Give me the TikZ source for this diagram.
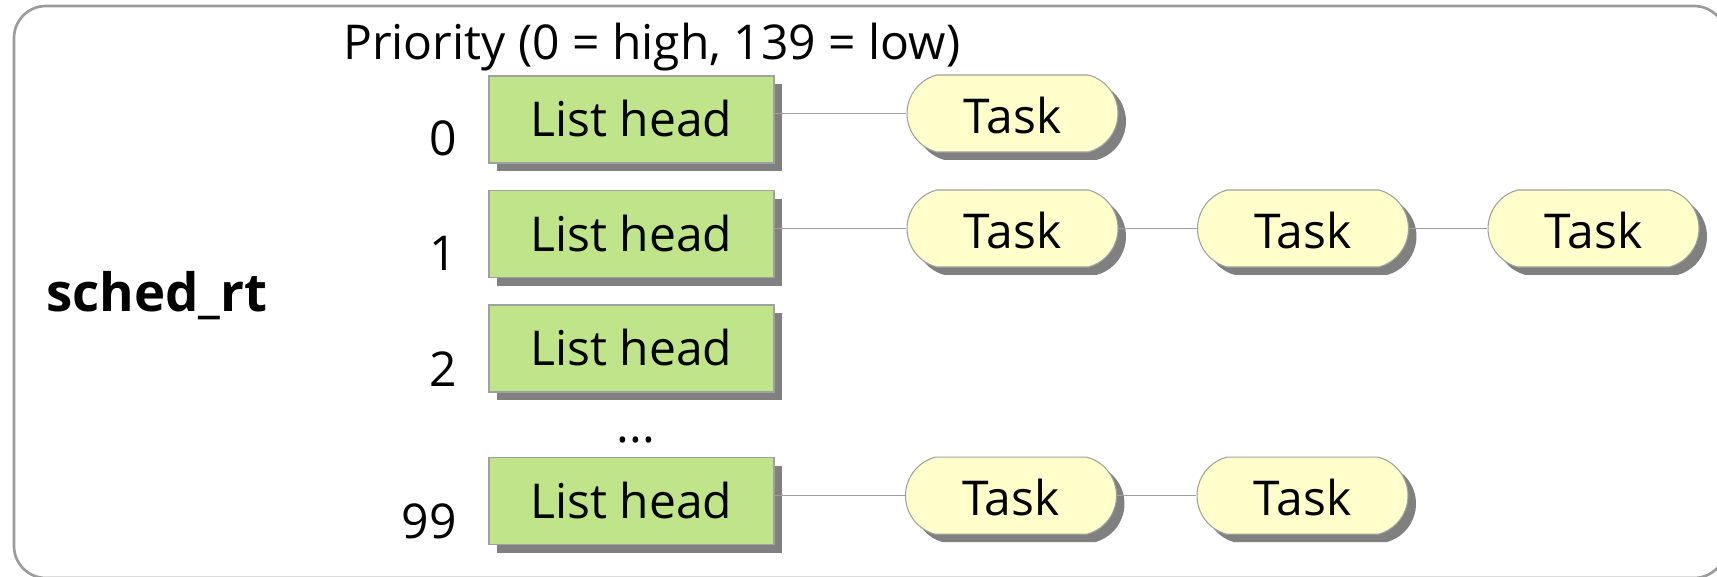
\documentclass[tikz,border=0pt]{standalone}
\usepackage{fontspec}
\setmainfont{Open Sans}
\usetikzlibrary{shapes.misc,shadows}

\definecolor{headgreen}{RGB}{192,228,138}
\definecolor{taskyellow}{RGB}{255,255,204}
\definecolor{edgegray}{RGB}{160,160,160}
\definecolor{framegray}{RGB}{155,155,155}
\definecolor{shadegray}{RGB}{128,128,128}

\tikzset{
  softshadow/.style={drop shadow={shadow xshift=6pt, shadow yshift=-6pt, fill=shadegray, opacity=1}},
  headbox/.style={rectangle, draw=edgegray, line width=0.8pt, fill=headgreen, softshadow,
    minimum width=213.75pt, minimum height=65.25pt, inner sep=0pt,
    text height=25.5pt, text depth=0pt},
  taskbox/.style={rounded rectangle, rounded rectangle arc length=150, draw=edgegray, line width=0.8pt,
    fill=taskyellow, softshadow, minimum width=158.25pt, minimum height=57.75pt, inner sep=0pt,
    text height=30pt, text depth=0pt},
  link/.style={draw=edgegray, line width=1.1pt},
  prio/.style={anchor=base east, inner sep=0pt},
}

\begin{document}
\begin{tikzpicture}[x=0.75pt, y=-0.75pt, every node/.style={font=\fontsize{36}{43}\selectfont}]
\useasboundingbox (0,0) rectangle (1717,577);

% outer frame of the run queue
\draw[framegray, line width=2pt, rounded corners=24pt] (14,6) rectangle (1726,578);

\node[anchor=base west, inner sep=0pt, font=\fontsize{39.6}{46}\selectfont\bfseries] (name) at (46,311) {sched\_rt};
\node[anchor=base west, inner sep=0pt] (title) at (343,60) {Priority (0 = high, 139 = low)};

% list heads
\node[headbox] (h0)  at (631.5,119.5) {List head};
\node[headbox] (h1)  at (631.5,234.2) {List head};
\node[headbox] (h2)  at (631.5,348.5) {List head};
\node[headbox] (h99) at (631.5,501.2) {List head};

\node[anchor=base, inner sep=0pt] (dots) at (636,442) {...};

% priority numbers
\node[prio] (p0)  at (457,156) {0};
\node[prio] (p1)  at (457,270.7) {1};
\node[prio] (p2)  at (457,386) {2};
\node[prio] (p99) at (457,538) {99};

% tasks
\node[taskbox] (t00) at (1012.5,113.5) {Task};
\node[taskbox] (t10) at (1012.5,228.5) {Task};
\node[taskbox] (t11) at (1303,228.5) {Task};
\node[taskbox] (t12) at (1593.5,228.5) {Task};
\node[taskbox] (t90) at (1011,495.7) {Task};
\node[taskbox] (t91) at (1302.5,495.7) {Task};

% links
\draw[link] (t00.west -| h0.east) -- (t00.west);
\draw[link] (t10.west -| h1.east) -- (t10.west);
\draw[link] (t10.east) -- (t11.west);
\draw[link] (t11.east) -- (t12.west);
\draw[link] (t90.west -| h99.east) -- (t90.west);
\draw[link] (t90.east) -- (t91.west);
\end{tikzpicture}
\end{document}
